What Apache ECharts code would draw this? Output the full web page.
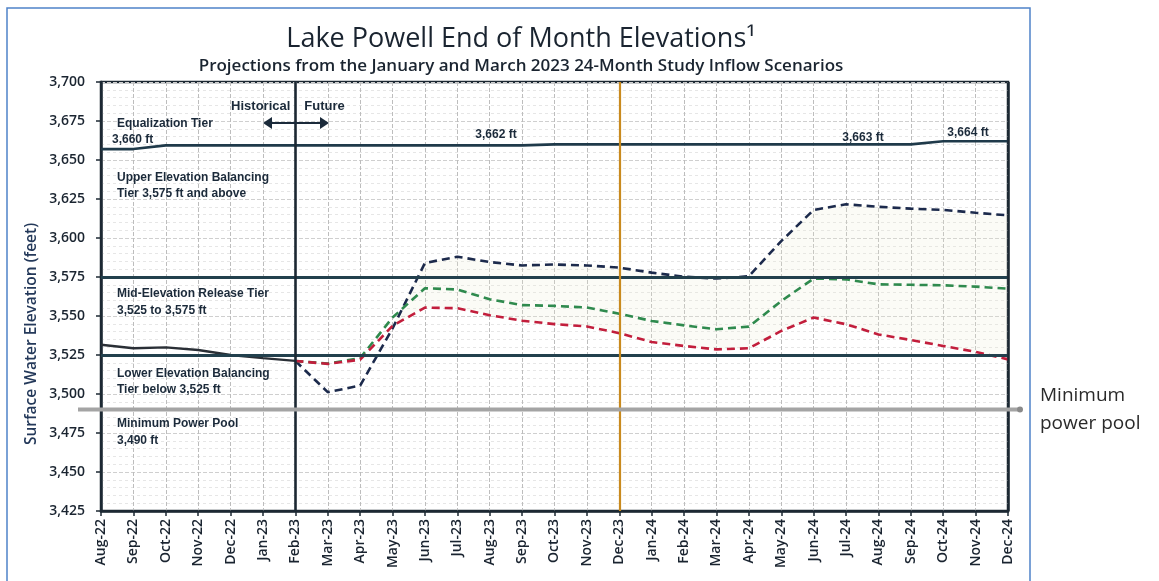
<!DOCTYPE html>
<html>
<head>
<meta charset="utf-8">
<title>Lake Powell End of Month Elevations</title>
<script src="https://cdn.jsdelivr.net/npm/echarts@6/dist/echarts.min.js"></script>
<style>
  html, body { margin: 0; padding: 0; background: #fff; }
  #chart { width: 1159px; height: 581px; }
</style>
</head>
<body>
<div id="chart"></div>
<script>
const months = [
  'Aug-22', 'Sep-22', 'Oct-22', 'Nov-22', 'Dec-22',
  'Jan-23', 'Feb-23', 'Mar-23', 'Apr-23', 'May-23', 'Jun-23', 'Jul-23',
  'Aug-23', 'Sep-23', 'Oct-23', 'Nov-23', 'Dec-23',
  'Jan-24', 'Feb-24', 'Mar-24', 'Apr-24', 'May-24', 'Jun-24', 'Jul-24',
  'Aug-24', 'Sep-24', 'Oct-24', 'Nov-24', 'Dec-24'
]

// observed elevations, Aug-22 .. Feb-23
const historical = [3531.6, 3529.3, 3529.9, 3528.2, 3525.0, 3523.0, 3521.2]

// projections, Feb-23 .. Dec-24
const scenarioHigh = [
  3521.2, 3501.2, 3505.4, 3542.0, 3584.0, 3588.0, 3584.6, 3582.4, 3583.0, 3582.4, 3581.0,
  3577.8, 3575.2, 3574.0, 3575.5, 3598.0, 3618.0, 3621.6, 3620.0, 3618.8, 3618.0, 3616.2, 3614.5
]
const scenarioMid = [
  3521.2, 3519.5, 3523.0, 3549.0, 3567.8, 3567.0, 3560.7, 3557.0, 3556.5, 3555.4, 3551.5,
  3546.8, 3544.0, 3541.5, 3543.2, 3559.6, 3574.0, 3573.5, 3570.3, 3570.0, 3569.7, 3568.8, 3567.5
]
const scenarioLow = [
  3521.2, 3519.3, 3522.0, 3543.7, 3555.4, 3555.0, 3550.5, 3547.0, 3544.8, 3543.3, 3539.0,
  3533.3, 3530.8, 3528.6, 3529.3, 3540.4, 3549.0, 3544.7, 3538.2, 3534.6, 3530.8, 3527.0, 3522.2
]

// equalization tier line, Aug-22 .. Dec-24
const equalizationTier = [
  3657.0, 3657.0, 3659.4, 3659.4, 3659.4, 3659.4, 3659.4, 3659.4, 3659.4, 3659.4,
  3659.4, 3659.4, 3659.4, 3659.4, 3660.0, 3660.0, 3660.0, 3660.0, 3660.0, 3660.0,
  3660.0, 3660.0, 3660.0, 3660.0, 3660.0, 3660.0, 3662.0, 3662.0, 3662.0
]

const tierLevels = [3575, 3525]
const minPowerPool = 3490
const splitMonth = 'Feb-23'
const studyMonth = 'Dec-23'

const yMin = 3425
const yMax = 3700
const yStep = 25

const navy = '#1b2a3a'
const narrow = '"Liberation Sans Narrow", "Liberation Sans", sans-serif'

const startIdx = months.indexOf(splitMonth)
const padBefore = (arr) => Array(startIdx).fill(null).concat(arr)
const padAfter = (arr) => arr.concat(Array(months.length - arr.length).fill(null))

const highFull = padBefore(scenarioHigh)
const lowFull = padBefore(scenarioLow)
// light fill between the high and low projections (only where high is above low)
const bandFull = highFull.map((v, i) => (v == null ? null : Math.max(0, +(v - lowFull[i]).toFixed(2))))

const chart = echarts.init(document.getElementById('chart'))

const dashed = (color) => ({ color, width: 2.6, type: [8, 5] })

const option = {
  backgroundColor: '#ffffff',
  animation: false,
  title: [
    {
      text: 'Lake Powell End of Month Elevations¹',
      left: 516,
      top: 21,
      textAlign: 'center',
      textStyle: { fontFamily: 'Open Sans', fontSize: 27, fontWeight: 'normal', color: '#1a2430' }
    },
    {
      text: 'Projections from the January and March 2023 24-Month Study Inflow Scenarios',
      left: 516,
      top: 53,
      textAlign: 'center',
      textStyle: { fontFamily: 'Open Sans', fontSize: 17, fontWeight: 600, color: '#1a2430' }
    }
  ],
  grid: {
    left: 101,
    right: 151,
    top: 82,
    bottom: 70,
    show: true,
    borderColor: '#1c2833',
    borderWidth: 2.5,
    backgroundColor: '#ffffff'
  },
  xAxis: {
    type: 'category',
    boundaryGap: false,
    data: months,
    axisLine: { lineStyle: { color: '#1c2833', width: 2.5 } },
    axisTick: { show: true, length: 5, lineStyle: { color: '#1c2833', width: 1.5 } },
    axisLabel: {
      rotate: 90,
      margin: 8,
      fontFamily: 'Open Sans',
      fontSize: 14,
      fontWeight: 600,
      color: '#1a2430'
    },
    splitLine: {
      show: true,
      // keep the frame edges solid
      interval: (i) => i > 0 && i < months.length - 1,
      lineStyle: { color: '#bdbdbd', width: 1, type: [4, 2] }
    }
  },
  yAxis: {
    type: 'value',
    min: yMin,
    max: yMax,
    interval: yStep,
    axisLine: { show: true, lineStyle: { color: '#1c2833', width: 2.5 } },
    axisTick: { show: true, length: 5, lineStyle: { color: '#1c2833', width: 1.5 } },
    axisLabel: {
      margin: 16,
      fontFamily: 'Open Sans',
      fontSize: 14,
      fontWeight: 600,
      color: '#1a2430',
      formatter: (v) => v.toLocaleString('en-US')
    },
    splitLine: { show: true, lineStyle: { color: '#cfcfcf', width: 1, type: [4, 2] } },
    minorTick: { show: false, splitNumber: 5 },
    minorSplitLine: { show: true, lineStyle: { color: '#e6e6e6', width: 1, type: [3, 3] } }
  },
  series: [
    {
      name: 'band base',
      type: 'line',
      stack: 'band',
      data: lowFull,
      symbol: 'none',
      silent: true,
      lineStyle: { opacity: 0 },
      markLine: {
        silent: true,
        symbol: 'none',
        label: { show: false },
        data: [
          ...tierLevels.map((v) => ({ yAxis: v, lineStyle: { color: '#22404d', width: 3.2, type: 'solid' } })),
          { xAxis: splitMonth, lineStyle: { color: '#1c2833', width: 2.6, type: 'solid' } },
          { xAxis: studyMonth, lineStyle: { color: '#c98a1e', width: 2.2, type: 'solid' } },
          { xAxis: months[months.length - 1], lineStyle: { color: '#1c2833', width: 2.5, type: 'solid' } }
        ]
      }
    },
    {
      name: 'projection range',
      type: 'line',
      stack: 'band',
      data: bandFull,
      symbol: 'none',
      silent: true,
      lineStyle: { opacity: 0 },
      areaStyle: { color: 'rgba(236,234,212,0.3)' }
    },
    {
      name: 'Equalization Tier',
      type: 'line',
      data: equalizationTier,
      symbol: 'none',
      lineStyle: { color: '#1f3a4a', width: 2.6 }
    },
    {
      name: 'Historical',
      type: 'line',
      data: padAfter(historical),
      symbol: 'none',
      lineStyle: { color: '#2a2f36', width: 2.4 }
    },
    {
      name: 'Scenario high',
      type: 'line',
      data: highFull,
      symbol: 'none',
      lineStyle: dashed('#1c2a4c')
    },
    {
      name: 'Scenario mid',
      type: 'line',
      data: padBefore(scenarioMid),
      symbol: 'none',
      lineStyle: dashed('#2f8a4e')
    },
    {
      name: 'Scenario low',
      type: 'line',
      data: lowFull,
      symbol: 'none',
      lineStyle: dashed('#c21e3c')
    }
  ]
}

chart.setOption(option)

// pieces placed after layout, using the axes for positions
const poolY = chart.convertToPixel({ yAxisIndex: 0 }, minPowerPool)
const splitX = chart.convertToPixel({ xAxisIndex: 0 }, splitMonth)

const tierText = (x, y, text, align) => ({
  type: 'text',
  x,
  y,
  style: {
    text,
    fill: navy,
    font: 'bold 12px ' + narrow,
    textAlign: align || 'left',
    textVerticalAlign: 'middle'
  },
  z: 10
})

chart.setOption({
  graphic: [
    {
      type: 'rect',
      shape: { x: 7, y: 8, width: 1023, height: 600 },
      style: { fill: null, stroke: '#4f82c9', lineWidth: 1.5 },
      silent: true,
      z: 0
    },
    // y axis title, sits a bit below the plot centre as in the original
    {
      type: 'text',
      x: 32,
      y: 334,
      rotation: Math.PI / 2,
      style: {
        text: 'Surface Water Elevation (feet)',
        fill: '#24395a',
        font: '600 15.5px "Open Sans", sans-serif',
        textAlign: 'center',
        textVerticalAlign: 'middle'
      }
    },
    {
      type: 'line',
      shape: { x1: 78, y1: poolY, x2: 1020, y2: poolY },
      style: { stroke: '#a4a4a4', lineWidth: 4 },
      z: 5
    },
    {
      type: 'circle',
      shape: { cx: 1020, cy: poolY, r: 3 },
      style: { fill: '#8a8a8a' },
      z: 5
    },
    {
      type: 'text',
      x: 1040,
      y: poolY,
      style: {
        text: 'Minimum\npower pool',
        fill: '#2a2a2a',
        font: '19px "Open Sans", sans-serif',
        lineHeight: 28,
        textVerticalAlign: 'middle'
      }
    },
    // historical / future arrow
    {
      type: 'line',
      shape: { x1: 268, y1: 123, x2: 323, y2: 123 },
      style: { stroke: navy, lineWidth: 2.2 },
      z: 10
    },
    {
      type: 'polygon',
      shape: { points: [[263, 123], [272, 117], [272, 129]] },
      style: { fill: navy },
      z: 10
    },
    {
      type: 'polygon',
      shape: { points: [[329, 123], [320, 117], [320, 129]] },
      style: { fill: navy },
      z: 10
    },
    {
      type: 'text',
      x: splitX - 5,
      y: 106,
      style: { text: 'Historical', fill: navy, font: 'bold 13px "Liberation Sans", sans-serif', textAlign: 'right', textVerticalAlign: 'middle' },
      z: 10
    },
    {
      type: 'text',
      x: splitX + 9,
      y: 106,
      style: { text: 'Future', fill: navy, font: 'bold 13px "Liberation Sans", sans-serif', textAlign: 'left', textVerticalAlign: 'middle' },
      z: 10
    },
    tierText(117, 124, 'Equalization Tier'),
    tierText(112, 140, '3,660 ft'),
    tierText(117, 178, 'Upper Elevation Balancing'),
    tierText(117, 194, 'Tier 3,575 ft and above'),
    tierText(117, 294, 'Mid-Elevation Release Tier'),
    tierText(117, 311, '3,525 to 3,575 ft'),
    tierText(117, 374, 'Lower Elevation Balancing'),
    tierText(117, 390, 'Tier below 3,525 ft'),
    tierText(117, 424, 'Minimum Power Pool'),
    tierText(117, 441, '3,490 ft'),
    tierText(496, 135, '3,662 ft', 'center'),
    tierText(863, 138, '3,663 ft', 'center'),
    tierText(968, 133, '3,664 ft', 'center')
  ]
})
</script>
</body>
</html>
